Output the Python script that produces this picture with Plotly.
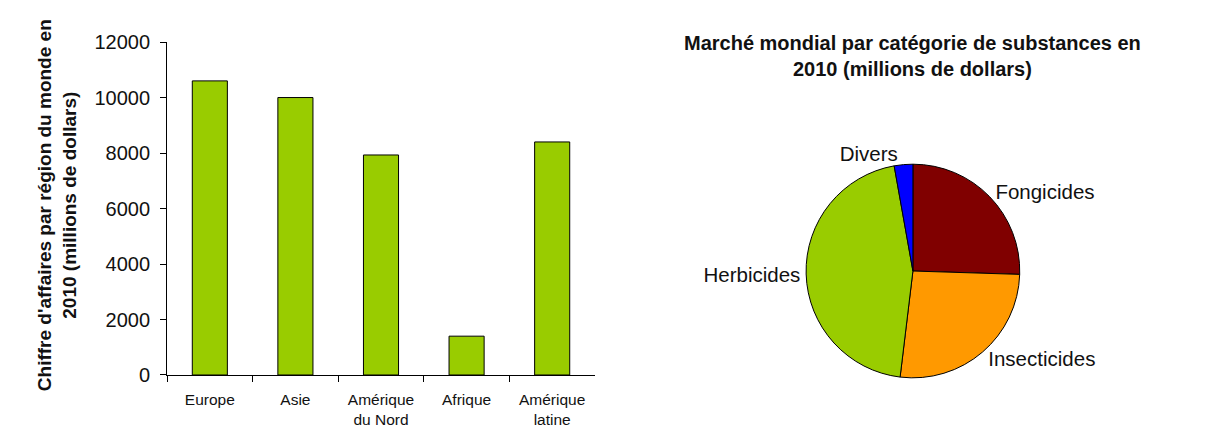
import plotly.graph_objects as go

REGIONS = ["Europe", "Asie", "Amérique<br>du Nord", "Afrique", "Amérique<br>latine"]
REGION_SALES = [10600, 10000, 7930, 1400, 8400]

CATEGORIES = ["Fongicides", "Insecticides", "Herbicides", "Divers"]
CATEGORY_SALES = [9800, 10150, 17400, 1080]
CATEGORY_COLORS = ["#800000", "#ff9900", "#99cc00", "#0000ff"]

Y_TICKS = [0, 2000, 4000, 6000, 8000, 10000, 12000]

FONT = "Liberation Sans, Arial, sans-serif"

fig = go.Figure()

fig.add_trace(go.Bar(
    x=REGIONS,
    y=REGION_SALES,
    marker=dict(color="#99cc00", line=dict(color="#000000", width=1)),
    width=0.41,
    showlegend=False,
))

fig.add_trace(go.Pie(
    labels=CATEGORIES,
    values=CATEGORY_SALES,
    sort=False,
    direction="clockwise",
    rotation=0,
    marker=dict(colors=CATEGORY_COLORS, line=dict(color="#000000", width=1)),
    textinfo="label",
    textposition="outside",
    outsidetextfont=dict(size=20.5, color="#111111", family=FONT),
    domain=dict(x=[0.6574, 0.8334], y=[0.1739, 0.6519]),
    showlegend=False,
    hoverinfo="label+value",
))

fig.update_layout(
    template="none",
    width=1214,
    height=448,
    margin=dict(l=0, r=0, t=0, b=0, autoexpand=False),
    paper_bgcolor="white",
    plot_bgcolor="white",
    font=dict(family=FONT, color="#111111"),
    xaxis=dict(
        domain=[0.131, 0.4835],
        automargin=False,
        showline=True,
        linecolor="#000000",
        linewidth=1,
        ticks="outside",
        tickson="boundaries",
        ticklen=6,
        tickcolor="#000000",
        tickfont=dict(size=15.5),
        ticklabelstandoff=10,
        showgrid=False,
    ),
    yaxis=dict(
        domain=[0.1808, 0.924],
        automargin=False,
        range=[0, 12000],
        tickvals=Y_TICKS,
        tickformat="d",
        showline=True,
        linecolor="#000000",
        linewidth=1,
        ticks="outside",
        ticklen=6,
        tickcolor="#000000",
        tickfont=dict(size=20),
        ticklabelstandoff=6,
        showgrid=False,
        zeroline=False,
    ),
    annotations=[
        dict(
            text="<b>Chiffre d'affaires par région du monde en<br>2010 (millions de dollars)</b>",
            xref="paper", yref="paper",
            x=0.0404, y=0.560,
            xanchor="center", yanchor="middle",
            textangle=-90,
            showarrow=False,
            font=dict(size=19, color="#111111"),
        ),
        dict(
            text="<b>Marché mondial par catégorie de substances en<br>2010 (millions de dollars)</b>",
            xref="paper", yref="paper",
            x=0.7454, y=0.951,
            xanchor="center", yanchor="top",
            showarrow=False,
            font=dict(size=20, color="#111111"),
        ),
    ],
)

fig.write_html("out.html")
